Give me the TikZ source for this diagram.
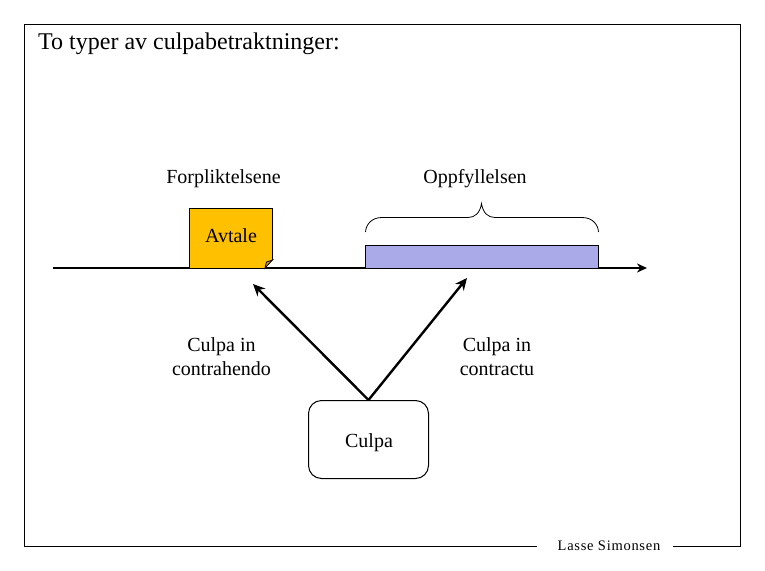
\documentclass[tikz,border=0pt]{standalone}
\usepackage{fontspec}
\setmainfont{Liberation Serif}
\usetikzlibrary{arrows.meta,decorations.pathreplacing}
\tikzset{
  lbl/.style={font=\fontsize{20}{24}\selectfont,align=center,inner sep=0pt,text=black},
  frameline/.style={line width=1pt,draw=black},
  axisline/.style={line width=2pt,draw=black},
  arrowline/.style={line width=2.4pt,draw=black,-{Stealth[length=12pt,width=11pt]}},
}
\definecolor{noteyellow}{HTML}{FFC000}
\definecolor{notefold}{HTML}{CCA040}
\definecolor{barblue}{HTML}{AAAAE9}
\begin{document}
\begin{tikzpicture}[x=1pt,y=-1pt]
\useasboundingbox (0,0) rectangle (765,570);
\fill[white] (0,0) rectangle (765,570);
% frame
\coordinate (fa) at (537,546);
\coordinate (fb) at (24,546);
\coordinate (fc) at (24,24);
\coordinate (fd) at (740,24);
\coordinate (fe) at (740,546);
\coordinate (ff) at (673,546);
\draw[frameline] (fa) -- (fb) -- (fc) -- (fd) -- (fe) -- (ff);
\node[lbl,anchor=west,font=\fontsize{24}{28}\selectfont] (title) at (38,44) {To typer av culpabetraktninger:};
\node[lbl,font=\fontsize{14.5}{16}\selectfont\addfontfeatures{LetterSpace=5}] (author) at (609,545.5) {Lasse Simonsen};
% axis
\coordinate (axs) at (53,268);
\coordinate (axe) at (647,268);
\draw[axisline,-{Stealth[length=10pt,width=9pt]}] (axs) -- (axe);
% note
\fill[noteyellow] (189.5,208.5) -- (272.5,208.5) -- (272.5,260) -- (265,268) -- (189.5,268) -- cycle;
\draw[line width=1pt,black] (265,268) -- (189.5,268) -- (189.5,208.5) -- (272.5,208.5) -- (272.5,260);
\draw[line width=0.8pt,black,fill=notefold] (272.5,260) -- (265,268) -- (266.5,262) -- cycle;
\node[lbl] (avtale) at (231,236) {Avtale};
% bar
\node[draw=black,line width=1pt,fill=barblue,minimum width=233pt,minimum height=23pt,inner sep=0pt,anchor=north west] (bar) at (365,245) {};
\draw[line width=0.8pt,black]
 (365.5,232) .. controls (366,224) and (372,217.5) .. (382,217.5)
 -- (468,217.5) .. controls (475,217.5) and (480,213) .. (481.5,203.5)
 .. controls (483,213) and (488,217.5) .. (495,217.5)
 -- (582,217.5) .. controls (592,217.5) and (598,224) .. (598.5,232);
\node[lbl] (forp) at (223.5,179) {Forpliktelsene};
\node[lbl] (oppf) at (475,179) {Oppfyllelsen};
% culpa
\node[draw=black,line width=1pt,rounded corners=13pt,minimum width=120pt,minimum height=78pt,inner sep=0pt] (culpa) at (368.5,439.5) {};
\node[lbl] (culpatxt) at (369,443) {Culpa};
\coordinate (ta) at (253,284);
\coordinate (tb) at (467,278);
\draw[arrowline] (culpa.north) -- (ta);
\draw[arrowline] (culpa.north) -- (tb);
\node[lbl] (cl) at (221.5,357) {Culpa in\\contrahendo};
\node[lbl] (cr) at (497,357) {Culpa in\\contractu};
\end{tikzpicture}
\end{document}
